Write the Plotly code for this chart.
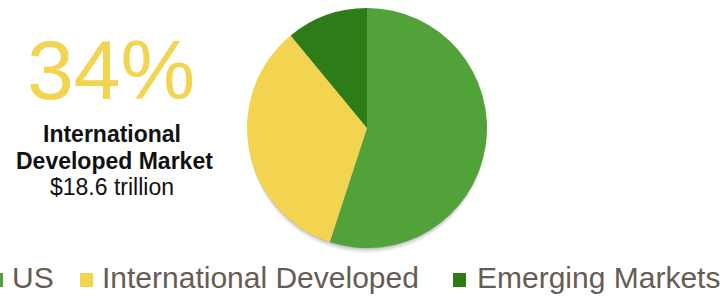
import plotly.graph_objects as go

W, H = 721, 296

labels = ["US", "International Developed", "Emerging Markets"]
values = [30.1, 18.6, 6.0]  # trillions USD
colors = ["#52A23A", "#F2D450", "#2E7C17"]

headline_pct = "34%"
headline_title = ["International", "Developed Market"]
headline_value = "$18.6 trillion"

# pie geometry (pixels)
cx, cy, r = 367, 128, 120

def px(x):
    return x / W

def py(y):
    return 1 - y / H

fig = go.Figure()
# soft drop shadow behind the pie
for off, a in [(6, 0.06), (4, 0.09), (2, 0.14)]:
    fig.add_trace(go.Pie(
        values=[1], labels=["shadow"], sort=False, textinfo="none", hoverinfo="skip",
        showlegend=False, marker=dict(colors=[f"rgba(0,0,0,{a})"], line=dict(width=0)),
        domain=dict(x=[px(cx - r + 1), px(cx + r - 1)], y=[py(cy + r + off), py(cy - r + off)]),
    ))
fig.add_trace(go.Pie(
    labels=labels, values=values, sort=False, direction="clockwise", rotation=0,
    marker=dict(colors=colors, line=dict(width=0)),
    textinfo="none", hoverinfo="label+percent", showlegend=False,
    domain=dict(x=[px(cx - r), px(cx + r)], y=[py(cy + r), py(cy - r)]),
))

shapes = []
annotations = []
annotations.append(dict(text=headline_pct, x=px(111), y=py(70), xref="paper", yref="paper",
                        xanchor="center", yanchor="middle", showarrow=False,
                        font=dict(family="Liberation Sans, Arial, sans-serif", size=84, color="#F2D450")))
for txt, ycen, xc in [(headline_title[0], 134, 112), (headline_title[1], 161, 114)]:
    annotations.append(dict(text=f"<b>{txt}</b>", x=px(xc), y=py(ycen), xref="paper", yref="paper",
                            xanchor="center", yanchor="middle", showarrow=False,
                            font=dict(family="Liberation Sans, Arial, sans-serif", size=23, color="#111111")))
annotations.append(dict(text=headline_value, x=px(112), y=py(187), xref="paper", yref="paper",
                        xanchor="center", yanchor="middle", showarrow=False,
                        font=dict(family="Liberation Sans, Arial, sans-serif", size=23, color="#111111")))

# legend (manual, left-clipped like the reference)
leg_marker_x = [-10, 80, 453]
leg_text_x = [10, 100, 475]
for lab, col, mx, tx in zip(labels, colors, leg_marker_x, leg_text_x):
    shapes.append(dict(type="rect", xref="paper", yref="paper", layer="above",
                       x0=px(mx), x1=px(mx + 13), y0=py(287), y1=py(273),
                       fillcolor=col, line=dict(width=0)))
    annotations.append(dict(text=lab, x=px(tx), y=py(277), xref="paper", yref="paper",
                            xanchor="left", yanchor="middle", showarrow=False,
                            font=dict(family="Liberation Sans, Arial, sans-serif", size=30, color="#655C56")))

fig.update_layout(
    width=W, height=H, margin=dict(l=0, r=0, t=0, b=0, autoexpand=False),
    paper_bgcolor="white", plot_bgcolor="rgba(0,0,0,0)",
    shapes=shapes, annotations=annotations,
)
fig.write_html("out.html", config={"displayModeBar": False},
               post_script="document.body.style.margin='0';document.body.style.overflow='hidden';")
